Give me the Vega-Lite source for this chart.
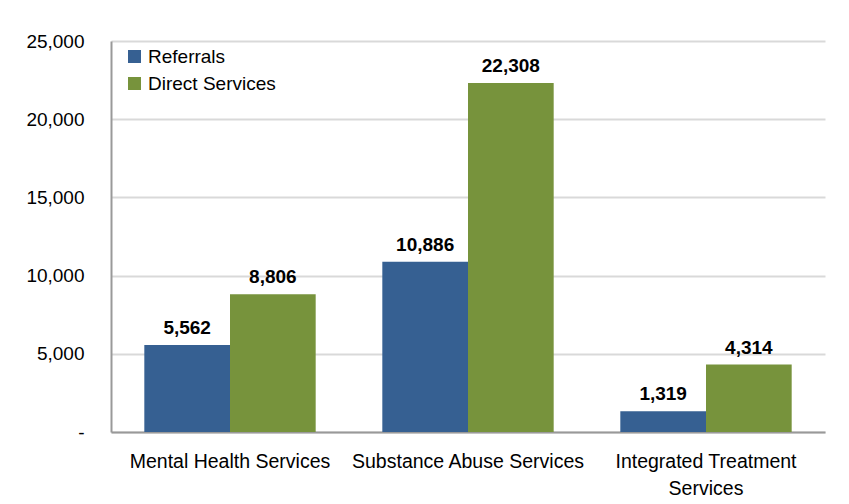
{
  "$schema": "https://vega.github.io/schema/vega-lite/v6.json",
  "width": 849,
  "height": 504,
  "autosize": {"type": "fit", "contains": "padding"},
  "padding": {"left": 25, "top": 32, "right": 24, "bottom": 6},
  "background": "white",
  "config": {
    "font": "Liberation Sans",
    "view": {"stroke": null}
  },
  "data": {
    "values": [
      {"category": "Mental Health Services", "series": "Referrals", "value": 5562},
      {"category": "Mental Health Services", "series": "Direct Services", "value": 8806},
      {"category": "Substance Abuse Services", "series": "Referrals", "value": 10886},
      {"category": "Substance Abuse Services", "series": "Direct Services", "value": 22308},
      {"category": "Integrated Treatment Services", "series": "Referrals", "value": 1319},
      {"category": "Integrated Treatment Services", "series": "Direct Services", "value": 4314}
    ]
  },
  "encoding": {
    "x": {
      "field": "category",
      "type": "nominal",
      "sort": null,
      "scale": {"paddingInner": 0.28, "paddingOuter": 0.14},
      "axis": {
        "title": null,
        "labelAngle": 0,
        "labelFontSize": 19.5,
        "labelColor": "black",
        "labelPadding": 20,
        "labelLineHeight": 27,
        "labelLimit": 0,
        "ticks": false,
        "domainColor": "#999999",
        "domainWidth": 2,
        "labelExpr": "datum.label == 'Integrated Treatment Services' ? ['Integrated Treatment', 'Services'] : datum.label"
      }
    },
    "xOffset": {"field": "series", "type": "nominal", "sort": ["Referrals", "Direct Services"], "scale": {"paddingInner": 0, "paddingOuter": 0}},
    "y": {
      "field": "value",
      "type": "quantitative",
      "scale": {"domain": [0, 25000], "nice": false},
      "axis": {
        "title": null,
        "values": [0, 5000, 10000, 15000, 20000, 25000],
        "labelExpr": "datum.value == 0 ? '-' : format(datum.value, ',')",
        "labelFontSize": 19,
        "labelColor": "black",
        "labelPadding": 27,
        "ticks": false,
        "domainColor": "#999999",
        "domainWidth": 2,
        "gridColor": "#d9d9d9",
        "gridWidth": 2
      }
    }
  },
  "layer": [
    {
      "mark": {"type": "bar"},
      "encoding": {
        "color": {
          "field": "series",
          "type": "nominal",
          "sort": ["Referrals", "Direct Services"],
          "scale": {"domain": ["Referrals", "Direct Services"], "range": ["#366092", "#77933C"]},
          "legend": {
            "title": null,
            "orient": "none",
            "legendX": 14,
            "legendY": 6,
            "symbolType": "square",
            "symbolSize": 169,
            "symbolStrokeWidth": 0,
            "labelFontSize": 19,
            "labelColor": "black",
            "labelOffset": 4,
            "rowPadding": 7
          }
        }
      }
    },
    {
      "mark": {"type": "text", "dy": -17, "fontSize": 19, "fontWeight": "bold", "color": "black"},
      "encoding": {
        "text": {"field": "value", "type": "quantitative", "format": ","}
      }
    }
  ]
}
